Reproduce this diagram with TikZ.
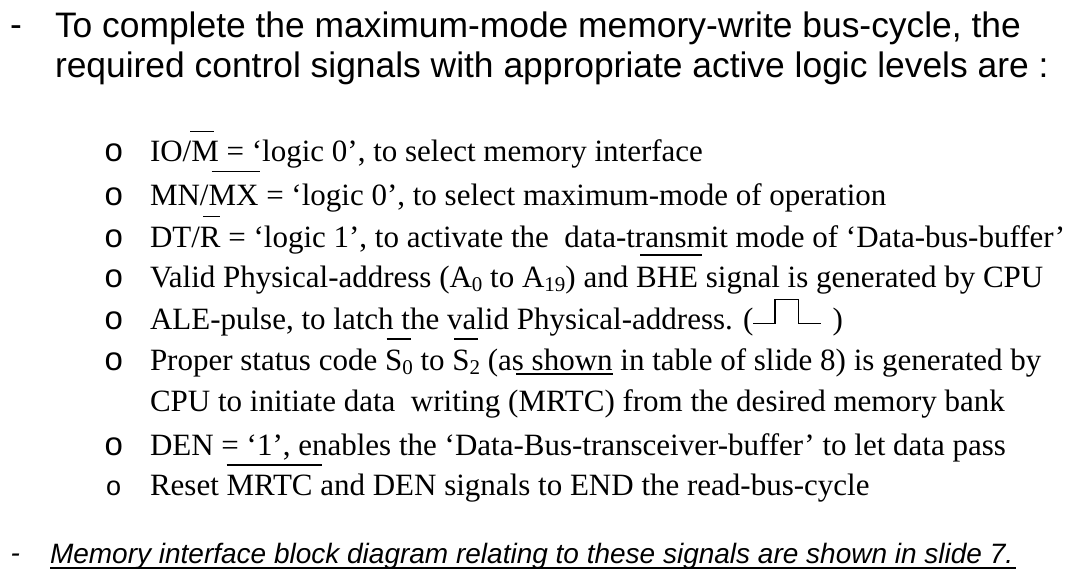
\documentclass[tikz,border=0pt]{standalone}
\usepackage{fontspec}
\setmainfont{Liberation Serif}
\setsansfont{Liberation Sans}
\newcommand{\lowidx}[1]{\raisebox{-4pt}{\fontsize{21}{24}\selectfont #1}}
\tikzset{
 txt/.style={anchor=base west,inner sep=0pt,outer sep=0pt},
 line/.style={txt,font=\fontsize{31}{36}\selectfont},
 head/.style={txt,font=\sffamily\fontsize{35.4}{40}\selectfont},
 note/.style={txt,font=\sffamily\itshape\fontsize{28}{32}\selectfont},
 dot/.style={txt,font=\sffamily\fontsize{33}{36}\selectfont},
 bar/.style={line width=1.4pt}
}
\begin{document}
\begin{tikzpicture}[x=1pt,y=-1pt]
 \useasboundingbox (0,0) rectangle (1082,579);
 \node[head] (dash1) at (10,36) {-};
 \node[head] (head1) at (55,37) {To complete the maximum-mode memory-write bus-cycle, the};
 \node[head] (head2) at (55,77) {required control signals with appropriate active logic levels are :};
 \node[dot] (dot1) at (104.5,161.7) {o};
 \node[line] (iom) at (150,161.7) {IO/M = ‘logic 0’, to select memory interface};
 \node[dot] (dot2) at (104.5,205) {o};
 \node[line] (mnmx) at (150,205) {MN/MX = ‘logic 0’, to select maximum-mode of operation};
 \node[dot] (dot3) at (104.5,247.7) {o};
 \node[line] (dtr) at (150,247.7) {DT/R = ‘logic 1’, to activate the\ \ data-transmit mode of ‘Data-bus-buffer’};
 \node[dot] (dot4) at (104.5,287.7) {o};
 \node[line] (addr) at (150,287.7) {Valid Physical-address (A\lowidx{0} to A\lowidx{19}) and BHE signal is generated by CPU};
 \node[dot] (dot5) at (104.5,329.3) {o};
 \node[line] (ale) at (150,329.3) {ALE-pulse, to latch the valid Physical-address. (\hspace{79pt})};
 \node[dot] (dot6) at (104.5,370.7) {o};
 \node[line] (stat) at (150,370.7) {Proper status code S\lowidx{0} to S\lowidx{2} (as shown in table of slide 8) is generated by};
 \node[line] (stat2) at (150,411.7) {CPU to initiate data\ \ writing (MRTC) from the desired memory bank};
 \node[dot] (dot7) at (104.5,455) {o};
 \node[line] (den) at (150,455) {DEN = ‘1’, enables the ‘Data-Bus-transceiver-buffer’ to let data pass};
 \node[dot,font=\sffamily\fontsize{27}{30}\selectfont] (dot8) at (106,495) {o};
 \node[line] (reset) at (150,495) {Reset MRTC and DEN signals to END the read-bus-cycle};
 \node[note] (dash2) at (10.5,562) {-};
 \node[note] (memo) at (50,563) {Memory interface block diagram relating to these signals are shown in slide 7.};
 \draw[bar](190,131.7)--(214,131.7);
 \draw[bar](211.7,171.7)--(260,171.7);
 \draw[bar](203,216.7)--(220,216.7);
 \draw[bar](640,255)--(701.7,255);
 \draw[bar](386.7,339)--(410.7,339);
 \draw[bar](454.3,339)--(478.3,339);
 \draw[bar](516,374)--(613,374);
 \draw[bar](226.7,465)--(322.3,465);
 \draw[bar](753.3,323.3)--(775,323.3)--(775,299.3)--(798.3,299.3)--(798.3,323.3)--(820.7,323.3);
 \draw[line width=2.5pt](50,568)--(1016,568);
\end{tikzpicture}
\end{document}
